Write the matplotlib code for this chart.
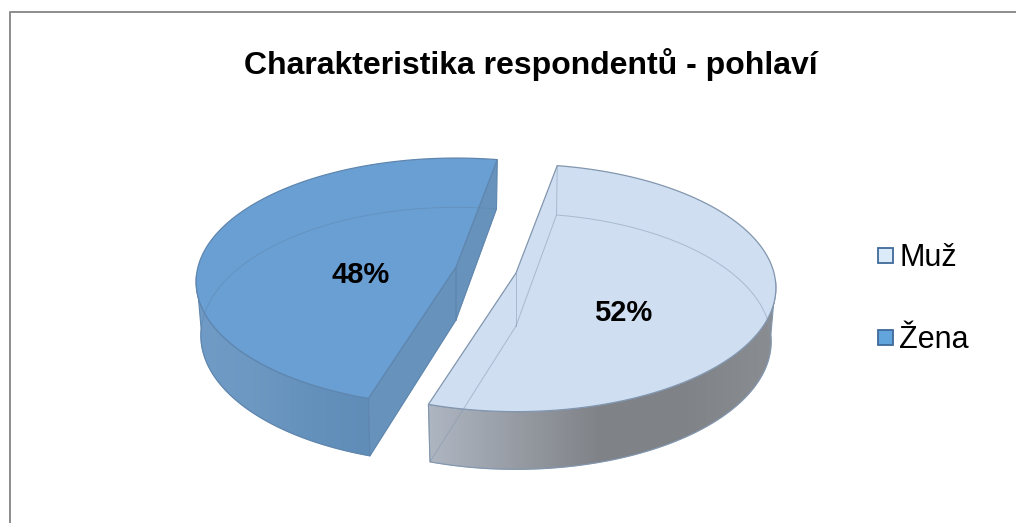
import numpy as np
import matplotlib
matplotlib.use("Agg")
import matplotlib.pyplot as plt
from matplotlib.patches import Polygon, Rectangle
from matplotlib.colors import LinearSegmentedColormap

# Chart content
title = "Charakteristika respondentů - pohlaví"
categories = ["Muž", "Žena"]
shares = [52, 48]
top_colors = ["#CFDFF1", "#6A9FD3"]
edge_colors = ["#8296AE", "#5F86AE"]
swatch_colors = ["#DCEBFA", "#62A5DC"]
side_ramps = [["#AEB6C2", "#979CA4", "#7F8287", "#808489", "#8A8E93"],
              ["#6F9BC6", "#6C98C2", "#6490BC", "#5F8DB8"]]
cut_colors = ["#A9B4C2", "#6792BC"]
# Exploded slice centres and label anchors in pixels; first slice start in degrees
centres = [(516, 273), (456, 267)]
label_anchors = [(623, 313), (361, 275)]
start_angle = 280.3

A, B, K, DEPTH = 258, 122, 0.12, 53

plt.rcParams["font.family"] = ["Liberation Sans", "DejaVu Sans"]
fig = plt.figure(figsize=(10.16, 5.23), dpi=100)
ax = fig.add_axes([0, 0, 1, 1])
ax.set_xlim(0, 1016)
ax.set_ylim(523, 0)
ax.axis("off")


def project(centre, u, v, z=0.0):
    """Perspective projection of a point on the unit disc at height z (0 top, 1 base)."""
    u, v = np.asarray(u, float), np.asarray(v, float)
    s = 1 / (1 - K * v)
    shrink = 1 - 0.018 * z
    return centre[0] + A * u * s * shrink, centre[1] + B * v * s * shrink + DEPTH * z * s


def rim_point(centre, angle, z=0.0):
    r = np.radians(angle)
    return np.array(project(centre, np.cos(r), np.sin(r), z))


def arc(centre, t0, t1, z=0.0, n=200):
    t = np.radians(np.linspace(t0, t1, n))
    x, y = project(centre, np.cos(t), np.sin(t), z)
    return np.column_stack([x, y])


def draw_gradient_side(poly_xy, colors, zorder):
    cmap = LinearSegmentedColormap.from_list("side", colors)
    x0, x1 = poly_xy[:, 0].min(), poly_xy[:, 0].max()
    y0, y1 = poly_xy[:, 1].min(), poly_xy[:, 1].max()
    im = ax.imshow(np.linspace(0, 1, 256)[None, :], cmap=cmap, extent=(x0, x1, y1, y0),
                   aspect="auto", zorder=zorder, interpolation="bilinear")
    clip = Polygon(poly_xy, closed=True, transform=ax.transData, fc="none", ec="none")
    ax.add_patch(clip)
    im.set_clip_path(clip)
    ax.set_xlim(0, 1016)
    ax.set_ylim(523, 0)


angle = start_angle
for i, (cat, share) in enumerate(zip(categories, shares)):
    t0, t1 = angle, angle + share * 3.6
    angle = t1 % 360
    c = centres[i]
    ec = edge_colors[i]
    apex_top = np.array(project(c, 0, 0, 0))
    apex_base = np.array(project(c, 0, 0, 1))

    # Outer wall: only the stretch of the rim that faces the viewer
    if i == 0:
        wall = np.vstack([arc(c, 4, t1 - 360), arc(c, t1 - 360, 4, 1)])
    else:
        wall = np.vstack([arc(c, t0, 176), arc(c, 176, t0, 1)])
    draw_gradient_side(wall, side_ramps[i], 2)
    ax.add_patch(Polygon(wall, closed=True, fc="none", ec=ec, lw=0.8, zorder=3))

    # Cut faces that turn towards the viewer
    if i == 1:
        for ang in (t0, t1):
            face = np.array([apex_top, rim_point(c, ang), rim_point(c, ang, 1), apex_base])
            ax.add_patch(Polygon(face, closed=True, fc=cut_colors[i], ec=ec, lw=0.7, zorder=3))

    # Top face
    top = np.vstack([[apex_top], arc(c, t0, t1)])
    ax.add_patch(Polygon(top, closed=True, fc=top_colors[i], ec=ec, lw=0.9, zorder=5))

    # Hidden base outline seen through the translucent solid
    base = np.vstack([[apex_base], arc(c, t0, t1, 1), [apex_base]])
    ax.plot(base[:, 0], base[:, 1], color=ec, lw=0.7, alpha=0.5, zorder=6)
    ax.plot([apex_top[0], apex_base[0]], [apex_top[1], apex_base[1]], color=ec, lw=0.7, alpha=0.5, zorder=6)
    for ang in (t0, t1):
        p0, p1 = rim_point(c, ang), rim_point(c, ang, 1)
        ax.plot([p0[0], p1[0]], [p0[1], p1[1]], color=ec, lw=0.7, alpha=0.5, zorder=6)

    # Percentage label
    lx, ly = label_anchors[i]
    ax.text(lx, ly, f"{share}%", ha="center", va="center", fontsize=21, fontweight="bold",
            color="black", zorder=8)

    # Legend entry
    sy = 255 + 82 * i
    ax.add_patch(Rectangle((877.5, sy - 7.5), 15, 15, fc=swatch_colors[i], ec="#3F6A9A", lw=1.3, zorder=8))
    ax.text(899, sy + 10.5, cat, ha="left", va="baseline", fontsize=22, color="black", zorder=8)

ax.text(531, 74, title, ha="center", va="baseline", fontsize=23, fontweight="bold", color="black")

# Chart area frame: left and top edges run off the image
ax.plot([9.5, 9.5, 1016], [523, 12, 12], color="#8C8C8C", lw=1.4, zorder=9)

fig.savefig("out.png", dpi=100, facecolor="white")
